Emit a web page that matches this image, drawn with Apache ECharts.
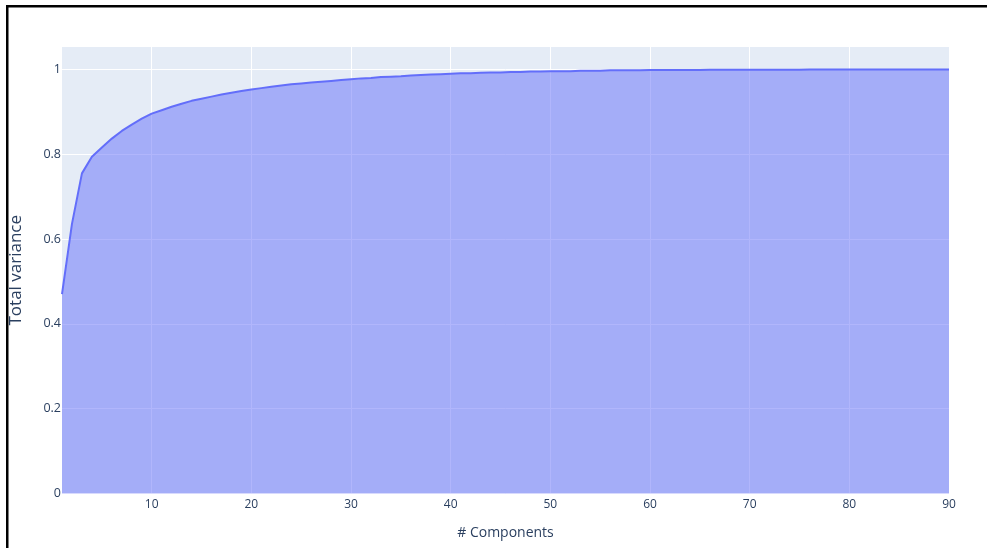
<!DOCTYPE html>
<html>
<head>
<meta charset="utf-8">
<script src="https://cdn.jsdelivr.net/npm/echarts@6/dist/echarts.min.js"></script>
<style>
html,body{margin:0;padding:0;background:#fff;}
#chart{width:987px;height:548px;}
</style>
</head>
<body>
<div id="chart"></div>
<script>
// Cumulative explained variance per number of components
var components = [];
for (var i = 1; i <= 90; i++) components.push(i);
var totalVariance = [
  0.470, 0.636, 0.755, 0.794, 0.816, 0.837, 0.855, 0.870, 0.884, 0.896,
  0.904, 0.912, 0.919, 0.926, 0.931, 0.936, 0.941, 0.945, 0.949, 0.953,
  0.956, 0.959, 0.962, 0.965, 0.967, 0.969, 0.971, 0.973, 0.975, 0.977,
  0.979, 0.980, 0.982, 0.983, 0.984, 0.986, 0.987, 0.988, 0.989, 0.990,
  0.991, 0.991, 0.992, 0.993, 0.993, 0.994, 0.994, 0.995, 0.995, 0.996,
  0.996, 0.996, 0.997, 0.997, 0.997, 0.998, 0.998, 0.998, 0.998, 0.999,
  0.999, 0.999, 0.999, 0.999, 0.999, 0.9995, 0.9995, 0.9995, 0.9995, 0.9995,
  0.9995, 0.9995, 0.9995, 0.9995, 0.9995, 1.000, 1.000, 1.000, 1.000, 1.000,
  1.000, 1.000, 1.000, 1.000, 1.000, 1.000, 1.000, 1.000, 1.000, 1.000
];
var xTicks = [10, 20, 30, 40, 50, 60, 70, 80, 90];
var yTicks = [0, 0.2, 0.4, 0.6, 0.8, 1];
var xTitle = '# Components';
var yTitle = 'Total variance';

var seriesData = components.map(function (c, i) { return [c, totalVariance[i]]; });

var chart = echarts.init(document.getElementById('chart'), null, {renderer: 'canvas'});
var font = '"Open Sans", Arial, sans-serif';
chart.setOption({
  animation: false,
  backgroundColor: '#ffffff',
  textStyle: {fontFamily: font},
  grid: {
    left: 62, right: 38, top: 47, bottom: 54.5,
    show: true, backgroundColor: '#E5ECF6', borderWidth: 0
  },
  xAxis: {
    type: 'value', min: 1, max: 90,
    name: xTitle, nameLocation: 'middle', nameGap: 33,
    nameTextStyle: {color: '#2a3f5f', fontSize: 14, fontFamily: font},
    axisLine: {show: false},
    axisTick: {show: false, customValues: xTicks},
    axisLabel: {customValues: xTicks, color: '#2a3f5f', fontSize: 12, margin: 5, fontFamily: font},
    splitLine: {show: true, lineStyle: {color: '#ffffff', width: 1}}
  },
  yAxis: {
    type: 'value', min: 0, max: 1.053,
    name: yTitle, nameLocation: 'middle', nameGap: 37, nameRotate: 90,
    nameTextStyle: {color: '#2a3f5f', fontSize: 17, fontFamily: font},
    axisLine: {show: false},
    axisTick: {show: false, customValues: yTicks},
    axisLabel: {customValues: yTicks, color: '#2a3f5f', fontSize: 12.5, margin: 1, fontFamily: font},
    splitLine: {show: true, lineStyle: {color: '#ffffff', width: 1}}
  },
  series: [{
    type: 'line',
    data: seriesData,
    showSymbol: false,
    smooth: false,
    lineStyle: {color: '#636efa', width: 2},
    itemStyle: {color: '#636efa'},
    areaStyle: {color: 'rgba(99,110,250,0.5)', opacity: 1, origin: 'start'}
  }],
  graphic: [
    {type: 'rect', left: 6, top: 5, shape: {width: 981, height: 2.5}, style: {fill: '#000'}, z: 100},
    {type: 'rect', left: 6, top: 5, shape: {width: 2.5, height: 543}, style: {fill: '#000'}, z: 100}
  ]
});
</script>
</body>
</html>
